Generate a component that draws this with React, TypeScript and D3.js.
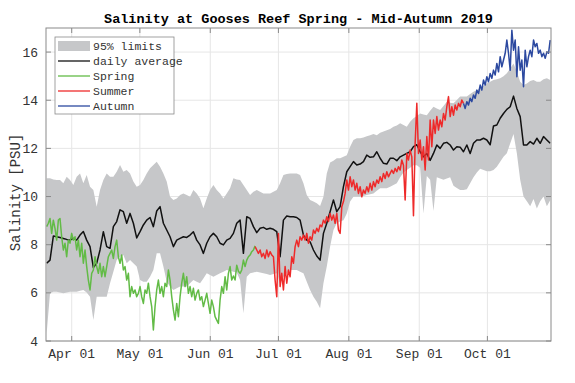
import React from 'react';
import * as d3 from 'd3';

// ---------------- data ----------------
const T0 = Date.UTC(2019, 2, 20); // 20 Mar 2019 (UTC)
const DAY = 86400000;
const X_DOMAIN_DAYS = [0.68, 223.0];
const DAILY_START = 0.976; // days after T0
const DAILY_STEP = 1.468;
const OBS_STEP = 0.734;
const SPRING_START = 0.976;
const SUMMER_START = 92.73;
const AUTUMN_START = 184.48;

const yTicks = [4, 6, 8, 10, 12, 14, 16];
const monthTickDates = [
  Date.UTC(2019, 3, 1), Date.UTC(2019, 4, 1), Date.UTC(2019, 5, 1), Date.UTC(2019, 6, 1),
  Date.UTC(2019, 7, 1), Date.UTC(2019, 8, 1), Date.UTC(2019, 9, 1),
];
const monthTickLabels = ['Apr 01', 'May 01', 'Jun 01', 'Jul 01', 'Aug 01', 'Sep 01', 'Oct 01'];
const legendLabels = ['95% limits', 'daily average', 'Spring', 'Summer', 'Autumn'];

const dailyAverage = [
  7.23, 7.36, 8.36, 8.33, 8.30, 8.26, 8.22, 8.19, 8.26, 8.19,
  8.40, 8.55, 8.19, 7.92, 7.05, 7.23, 7.78, 8.54, 7.92, 7.85,
  8.75, 8.96, 9.45, 9.37, 8.89, 9.30, 8.89, 8.28, 8.54, 8.82,
  9.02, 9.13, 8.75, 9.40, 9.58, 8.89, 8.61, 8.33, 7.92, 8.19,
  8.26, 8.33, 8.30, 8.40, 8.54, 8.19, 7.99, 7.64, 8.06, 8.33,
  8.47, 8.33, 8.06, 7.99, 8.19, 8.26, 8.47, 8.89, 9.02, 7.64,
  9.16, 9.09, 8.75, 8.50, 8.68, 8.72, 8.64, 8.68, 8.64, 8.54,
  7.50, 9.02, 9.19, 9.16, 9.16, 9.13, 9.02, 8.40, 8.19, 8.12,
  7.78, 7.53, 7.36, 8.47, 8.89, 9.37, 9.86, 9.37, 9.58, 10.41,
  11.03, 11.24, 11.45, 11.31, 11.35, 11.45, 11.72, 11.63, 11.65, 11.86,
  11.59, 11.38, 11.35, 11.59, 11.59, 11.49, 11.65, 11.72, 11.79, 11.86,
  12.07, 12.15, 11.86, 11.65, 11.79, 11.50, 11.79, 12.14, 12.00, 12.21,
  12.25, 12.14, 11.93, 12.07, 12.05, 11.86, 12.14, 11.79, 12.21, 12.35,
  12.35, 12.42, 12.35, 12.15, 12.93, 12.97, 13.25, 13.45, 13.62, 13.73,
  14.17, 13.66, 13.32, 12.14, 12.14, 12.28, 12.18, 12.42, 12.21, 12.49,
  12.35, 12.21,
];

const upperLimit = [
  10.76, 10.76, 10.71, 10.69, 10.69, 10.55, 10.82, 10.69, 10.48, 10.82,
  10.96, 10.55, 10.89, 10.41, 10.27, 9.58, 10.27, 10.69, 10.96, 10.82,
  10.82, 11.03, 11.31, 11.03, 11.10, 10.96, 10.62, 10.41, 10.48, 10.69,
  10.96, 11.17, 11.31, 11.45, 11.24, 10.96, 10.62, 9.99, 9.86, 9.92,
  10.06, 10.13, 10.06, 9.99, 10.27, 10.13, 9.92, 9.51, 9.92, 10.27,
  10.48, 10.27, 10.13, 9.92, 10.13, 10.34, 10.76, 10.71, 10.69, 10.48,
  10.27, 10.06, 10.20, 10.27, 10.20, 10.13, 10.13, 10.13, 10.20, 10.27,
  10.55, 10.89, 10.94, 10.96, 10.96, 10.96, 10.89, 10.55, 10.06, 9.86,
  9.79, 9.72, 9.61, 9.99, 10.96, 11.41, 11.49, 11.59, 11.59, 11.65,
  11.72, 12.07, 12.35, 12.42, 12.42, 12.45, 12.50, 12.55, 12.60, 12.55,
  12.65, 12.70, 12.75, 12.80, 12.90, 12.95, 13.04, 12.97, 12.90, 13.11,
  13.25, 13.34, 13.45, 13.41, 13.38, 13.56, 13.73, 13.66, 13.59, 13.76,
  13.94, 13.90, 13.87, 14.01, 14.15, 14.15, 14.15, 14.26, 14.35, 14.42,
  14.49, 14.59, 14.70, 14.77, 14.84, 14.87, 14.91, 15.00, 15.12, 15.32,
  15.53, 15.18, 14.77, 14.63, 14.70, 14.80, 14.84, 14.77, 14.77, 14.87,
  14.91, 14.84,
];

const lowerLimit = [
  4.32, 5.98, 6.05, 6.05, 6.01, 5.98, 6.01, 6.05, 6.05, 6.05,
  6.09, 6.12, 6.01, 5.84, 4.87, 5.84, 5.84, 5.84, 5.84, 6.40,
  6.88, 7.36, 7.50, 7.57, 7.23, 7.36, 7.23, 7.09, 6.53, 6.46,
  6.46, 6.67, 6.95, 7.64, 7.64, 7.09, 6.46, 6.26, 6.12, 6.19,
  6.26, 6.26, 6.26, 6.40, 6.53, 6.46, 6.40, 6.60, 6.81, 6.74,
  6.67, 6.74, 6.81, 6.88, 6.95, 6.92, 6.88, 6.84, 6.53, 5.15,
  6.67, 6.81, 6.84, 6.88, 6.84, 6.81, 6.78, 6.74, 6.78, 6.81,
  6.40, 6.67, 6.81, 6.95, 6.95, 6.95, 6.88, 6.81, 6.46, 6.12,
  5.84, 5.63, 5.36, 6.40, 7.09, 7.92, 8.61, 8.89, 8.96, 9.02,
  9.30, 9.79, 9.99, 9.99, 9.99, 10.02, 10.06, 10.10, 10.13, 10.24,
  10.34, 10.34, 10.34, 10.41, 10.48, 10.55, 10.80, 11.00, 11.10, 11.20,
  11.30, 11.30, 11.20, 9.30, 10.85, 10.70, 9.40, 10.80, 10.75, 10.70,
  10.75, 10.80, 10.45, 10.35, 10.27, 10.27, 10.30, 10.55, 10.80, 11.00,
  11.15, 11.10, 11.05, 11.05, 11.10, 11.24, 11.45, 11.65, 11.80, 12.20,
  12.60, 11.80, 10.70, 10.00, 9.80, 9.60, 9.90, 9.50, 9.80, 10.00,
  9.60, 9.85,
];

const springSalinity = [
  8.75, 8.89, 9.09, 8.47, 9.02, 8.68, 8.19, 9.02, 9.09, 8.33,
  7.78, 8.06, 7.50, 8.19, 8.06, 8.47, 8.19, 8.33, 7.78, 8.19,
  7.50, 8.06, 7.23, 7.78, 7.09, 6.53, 6.12, 6.81, 6.95, 7.50,
  7.09, 6.81, 7.23, 6.67, 7.09, 6.67, 7.09, 7.50, 7.64, 7.78,
  7.43, 7.92, 8.19, 7.50, 7.23, 7.57, 6.95, 7.09, 6.53, 6.81,
  5.84, 6.26, 5.98, 6.12, 5.84, 5.98, 6.26, 5.84, 5.56, 6.12,
  5.98, 6.40, 5.84, 5.43, 4.46, 5.43, 6.12, 6.53, 5.98, 6.26,
  5.84, 6.40, 6.26, 6.95, 6.53, 5.84, 5.29, 4.87, 5.56, 5.01,
  5.84, 6.40, 6.81, 6.26, 6.67, 5.98, 6.26, 5.84, 6.19, 5.70,
  5.98, 6.12, 5.70, 5.84, 5.43, 5.70, 5.98, 5.56, 5.15, 5.70,
  5.43, 5.01, 4.87, 4.73, 5.70, 6.26, 5.98, 6.67, 6.12, 6.81,
  7.09, 6.53, 6.70, 6.53, 7.15, 6.90, 6.81, 6.95, 7.36, 7.09,
  7.36, 7.50, 7.57, 7.71, 7.78, 7.95,
];

const summerSalinity = [
  7.92, 7.78, 7.64, 7.78, 7.50, 7.64, 7.43, 7.78, 7.50, 7.71,
  7.57, 7.50, 6.53, 5.84, 8.47, 6.26, 6.81, 6.12, 7.09, 6.40,
  6.95, 6.67, 7.50, 7.23, 7.92, 8.19, 7.92, 8.33, 8.19, 8.40,
  8.19, 8.47, 8.06, 8.33, 8.19, 8.61, 8.47, 8.68, 8.54, 8.82,
  8.75, 9.02, 8.89, 9.16, 8.96, 9.30, 9.02, 9.23, 8.89, 9.30,
  8.61, 8.47, 9.58, 9.79, 10.13, 10.69, 10.27, 10.82, 10.41, 10.69,
  10.27, 10.55, 10.13, 10.41, 9.99, 10.27, 10.13, 10.41, 10.20, 10.55,
  10.27, 10.62, 10.41, 10.69, 10.55, 10.82, 10.62, 10.96, 10.75, 11.03,
  10.82, 10.96, 11.10, 10.96, 11.17, 11.03, 11.24, 11.10, 11.52, 11.30,
  9.86, 11.79, 11.52, 11.93, 11.65, 9.20, 12.21, 13.87, 11.79, 12.35,
  11.52, 12.07, 11.10, 12.49, 11.52, 13.18, 12.07, 13.18, 12.62, 13.32,
  12.76, 13.18, 12.90, 13.45, 13.18, 13.73, 14.15, 13.32, 13.73, 13.38,
  13.80, 13.59, 13.87, 13.73, 14.01, 13.87,
];

const autumnSalinity = [
  13.87, 13.66, 13.94, 13.80, 14.08, 13.94, 14.22, 14.08, 14.42, 14.28,
  14.63, 14.42, 14.84, 14.63, 14.98, 14.77, 15.11, 14.91, 15.25, 15.05,
  15.53, 15.18, 15.81, 15.39, 15.67, 15.95, 16.50, 15.95, 15.25, 16.91,
  16.08, 16.50, 14.98, 16.22, 15.25, 15.67, 14.56, 16.08, 15.39, 15.81,
  16.08, 15.81, 16.50, 16.22, 16.36, 15.95, 16.08, 15.81, 15.95, 15.74,
  16.01, 15.95, 16.50,
];

// ---------------- layout & style ----------------
const W = 575;
const H = 383;
const PL = 46, PR = 551, PT = 28, PB = 341;
const FONT = '"Liberation Mono", "DejaVu Sans Mono", monospace';
const BAND = '#c6c7c9';
const GREEN = '#62bb46';
const RED = '#ee2a2a';
const BLUE = '#2c49a0';
const BLACK = '#111111';
const AXIS = '#8a8a8a';
const GRID = '#e6e6e6';
const TEXT = '#333333';

type Pt = { t: number; v: number };
const toPts = (vals: number[], start: number, step: number): Pt[] =>
  vals.map((v, i) => ({ t: T0 + (start + step * i) * DAY, v }));

export default function App() {
  const x = d3.scaleUtc()
    .domain([new Date(T0 + X_DOMAIN_DAYS[0] * DAY), new Date(T0 + X_DOMAIN_DAYS[1] * DAY)])
    .range([PL, PR]);
  const y = d3.scaleLinear().domain([4, 17]).range([PB, PT]);

  const band = upperLimit.map((u, i) => ({
    t: T0 + (DAILY_START + DAILY_STEP * i) * DAY,
    hi: u,
    lo: lowerLimit[i],
  }));
  const area = d3.area<{ t: number; hi: number; lo: number }>()
    .x((d) => x(new Date(d.t)))
    .y0((d) => y(d.lo))
    .y1((d) => y(d.hi));
  const line = d3.line<Pt>().x((d) => x(new Date(d.t))).y((d) => y(d.v));

  const avgPts = toPts(dailyAverage, DAILY_START, DAILY_STEP);
  const springPts = toPts(springSalinity, SPRING_START, OBS_STEP);
  const summerPts = toPts(summerSalinity, SUMMER_START, OBS_STEP);
  const autumnPts = toPts(autumnSalinity, AUTUMN_START, OBS_STEP);

  const legendX = 55, legendY = 37, legendW = 119, legendH = 77;
  const rowY = (i: number) => legendY + 9 + i * 15;
  const legendColors = [BAND, BLACK, GREEN, RED, BLUE];

  return (
    <svg width={W} height={H} style={{ position: 'absolute', left: 0, top: 0, background: '#fff' }}>
      <defs>
        <clipPath id="plotClip">
          <rect x={PL} y={PT} width={PR - PL} height={PB - PT} />
        </clipPath>
      </defs>
      <rect x={0} y={0} width={W} height={H} fill="#fff" />
      {/* grid */}
      <g>
        {monthTickDates.map((t) => (
          <line key={'gx' + t} x1={x(new Date(t))} x2={x(new Date(t))} y1={PT} y2={PB} stroke={GRID} strokeWidth={1} />
        ))}
        {yTicks.map((v) => (
          <line key={'gy' + v} x1={PL} x2={PR} y1={y(v)} y2={y(v)} stroke={GRID} strokeWidth={1} />
        ))}
      </g>
      {/* data */}
      <g clipPath="url(#plotClip)">
        <path d={area(band) || ''} fill={BAND} stroke="none" />
        <path d={line(avgPts) || ''} fill="none" stroke={BLACK} strokeWidth={1.5} strokeLinejoin="round" />
        <path d={line(springPts) || ''} fill="none" stroke={GREEN} strokeWidth={1.5} strokeLinejoin="round" />
        <path d={line(summerPts) || ''} fill="none" stroke={RED} strokeWidth={1.5} strokeLinejoin="round" />
        <path d={line(autumnPts) || ''} fill="none" stroke={BLUE} strokeWidth={1.5} strokeLinejoin="round" />
      </g>
      {/* axes box and ticks */}
      <rect x={PL} y={PT} width={PR - PL} height={PB - PT} fill="none" stroke={AXIS} strokeWidth={1} />
      {monthTickDates.map((t) => {
        const xx = x(new Date(t));
        return (
          <g key={'tx' + t}>
            <line x1={xx} x2={xx} y1={PB} y2={PB - 5} stroke={AXIS} />
            <line x1={xx} x2={xx} y1={PT} y2={PT + 5} stroke={AXIS} />
          </g>
        );
      })}
      {yTicks.map((v) => (
        <g key={'ty' + v}>
          <line x1={PL} x2={PL + 5} y1={y(v)} y2={y(v)} stroke={AXIS} />
          <line x1={PR} x2={PR - 5} y1={y(v)} y2={y(v)} stroke={AXIS} />
        </g>
      ))}
      {/* tick labels */}
      {monthTickDates.map((t, i) => (
        <text key={'lx' + t} x={x(new Date(t))} y={358} textAnchor="middle" fontFamily={FONT} fontSize={13} fill={TEXT}>
          {monthTickLabels[i]}
        </text>
      ))}
      {yTicks.map((v) => (
        <text key={'ly' + v} x={38} y={y(v)} dy="0.35em" textAnchor="end" fontFamily={FONT} fontSize={13} fill={TEXT}>
          {v}
        </text>
      ))}
      {/* axis label */}
      <text transform={`translate(19.5,${(PT + PB) / 2 + 8}) rotate(-90)`} textAnchor="middle" fontFamily={FONT} fontSize={14} fill={TEXT}>
        Salinity [PSU]
      </text>
      {/* title */}
      <text x={(PL + PR) / 2} y={23} textAnchor="middle" fontFamily={FONT} fontSize={13.5} fontWeight="bold" fill="#000">
        Salinity at Gooses Reef Spring - Mid-Autumn 2019
      </text>
      {/* legend */}
      <g>
        <rect x={legendX} y={legendY} width={legendW} height={legendH} fill="#fff" stroke={AXIS} strokeWidth={0.8} />
        {legendLabels.map((lab, i) => (
          <g key={lab}>
            {i === 0 ? (
              <rect x={58} y={rowY(i) - 5} width={32} height={10} fill={BAND} />
            ) : (
              <line x1={58} x2={90} y1={rowY(i)} y2={rowY(i)} stroke={legendColors[i]} strokeWidth={1.3} />
            )}
            <text x={93} y={rowY(i)} dy="0.35em" fontFamily={FONT} fontSize={11.5} fill={TEXT}>
              {lab}
            </text>
          </g>
        ))}
      </g>
    </svg>
  );
}
